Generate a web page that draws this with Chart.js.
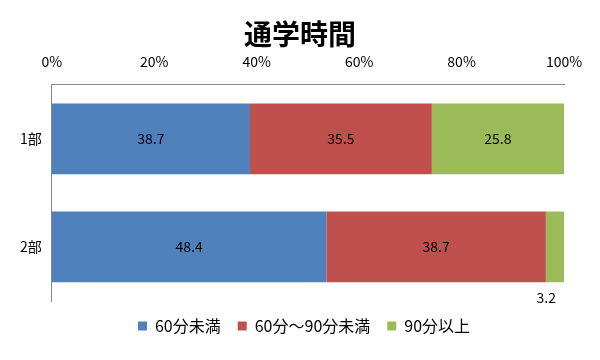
<!DOCTYPE html>
<html>
<head>
<meta charset="utf-8">
<script src="https://cdn.jsdelivr.net/npm/chart.js@4/dist/chart.umd.min.js"></script>
<style>
  html, body { margin: 0; padding: 0; background: #fff; }
  #wrap { width: 600px; height: 360px; position: relative; }
</style>
</head>
<body>
<div id="wrap"><canvas id="chart"></canvas></div>
<script>
const categories = ['1部', '2部'];
const seriesNames = ['60分未満', '60分～90分未満', '90分以上'];
const under60 = [38.7, 48.4];
const from60to90 = [35.5, 38.7];
const over90 = [25.8, 3.2];
const tickValues = [0, 20, 40, 60, 80, 100];

const COLORS = ['#4f81bd', '#c0504d', '#9bbb59'];
const FONT = "'Noto Sans CJK JP', 'Noto Sans', sans-serif";

const rawSeries = [under60, from60to90, over90];
const totals = categories.map((_, i) => rawSeries.reduce((s, arr) => s + arr[i], 0));
const toPct = arr => arr.map((v, i) => v / totals[i] * 100);

// data labels, raw values in the middle of each segment
const valueLabels = {
  id: 'valueLabels',
  afterDatasetsDraw(chart) {
    const ctx = chart.ctx;
    ctx.save();
    ctx.font = '14px ' + FONT;
    ctx.fillStyle = '#000';
    ctx.textBaseline = 'middle';
    chart.data.datasets.forEach((ds, di) => {
      const meta = chart.getDatasetMeta(di);
      meta.data.forEach((bar, i) => {
        const raw = ds.raw[i];
        const w = Math.abs(bar.x - bar.base);
        const txt = raw.toFixed(1);
        if (w > 30) {
          ctx.textAlign = 'center';
          ctx.fillText(txt, (bar.x + bar.base) / 2, bar.y);
        } else {
          ctx.textAlign = 'right';
          ctx.fillText(txt, (bar.x + bar.base) / 2 + 1, bar.y + bar.height / 2 + 15);
        }
      });
    });
    ctx.restore();
  }
};

// center title and legend on the canvas, not on the padded box
const recenter = {
  id: 'recenter',
  afterLayout(chart) {
    const t = chart.titleBlock;
    if (t) {
      t.left = 0;
      t.right = chart.width;
      t.width = chart.width;
    }
    const lg = chart.legend;
    if (lg) {
      lg.left = 8;
      lg.right = chart.width;
      lg.width = chart.width - 8;
    }
  }
};

new Chart(document.getElementById('chart'), {
  type: 'bar',
  data: {
    labels: categories,
    datasets: rawSeries.map((arr, k) => ({
      label: seriesNames[k],
      data: toPct(arr),
      raw: arr,
      backgroundColor: COLORS[k],
      categoryPercentage: 0.655,
      barPercentage: 1.0
    }))
  },
  options: {
    indexAxis: 'y',
    responsive: true,
    maintainAspectRatio: false,
    animation: false,
    layout: { padding: { left: 10, right: 36, top: 2, bottom: 16 } },
    plugins: {
      title: {
        display: true,
        text: '通学時間',
        color: '#000',
        font: { family: FONT, size: 28, weight: 'bold', lineHeight: 1 },
        padding: { top: 18, bottom: -10 }
      },
      legend: {
        position: 'bottom',
        labels: {
          color: '#000',
          font: { family: FONT, size: 16 },
          boxWidth: 9,
          boxHeight: 9,
          padding: 17
        }
      },
      tooltip: { enabled: false }
    },
    scales: {
      x: {
        position: 'top',
        stacked: true,
        min: 0,
        max: 100,
        afterBuildTicks: axis => { axis.ticks = tickValues.map(v => ({ value: v })); },
        ticks: {
          color: '#000',
          font: { family: FONT, size: 14 },
          padding: 15,
          callback: v => v + '%'
        },
        grid: { display: false, drawTicks: false },
        border: { display: true, color: '#888' }
      },
      y: {
        stacked: true,
        ticks: {
          color: '#000',
          font: { family: FONT, size: 14 },
          padding: 10
        },
        grid: { display: false, drawTicks: false },
        border: { display: true, color: '#888' }
      }
    }
  },
  plugins: [valueLabels, recenter]
});
</script>
</body>
</html>
